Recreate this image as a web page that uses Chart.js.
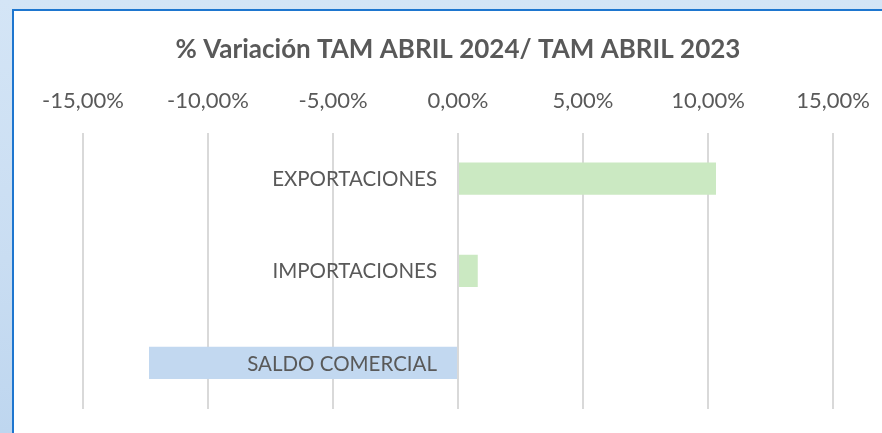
<!DOCTYPE html>
<html>
<head>
<meta charset="utf-8">
<script src="https://cdn.jsdelivr.net/npm/chart.js@4.4.0/dist/chart.umd.min.js"></script>
<style>
  html, body { margin: 0; padding: 0; }
  body {
    width: 882px; height: 433px; overflow: hidden;
    background: linear-gradient(to bottom, #D4E5F6 0%, #C9DDF2 60%, #BED6EF 100%);
  }
  .box {
    position: absolute; left: 12px; top: 9px;
    width: 880px; height: 440px;
    border: 2px solid #1E76CF;
    background: #fff;
  }
  .wrap { position: absolute; left: 0; top: 0; width: 874px; height: 422px; }
</style>
</head>
<body>
<div class="box"><div class="wrap"><canvas id="chart"></canvas></div></div>
<script>
const categorias = ['EXPORTACIONES', 'IMPORTACIONES', 'SALDO COMERCIAL'];
const variacion = [10.32, 0.79, -12.36];
const coloresBarras = ['#CBE9C2', '#CBE9C2', '#C2D8F0'];
const tituloTexto = '% Variación TAM ABRIL 2024/ TAM ABRIL 2023';
const ejeMin = -15;
const ejeMax = 15;
const ejePaso = 5;

const gris = '#595959';

// etiquetas de categoria junto al eje cero (como en Excel)
const etiquetasCategoria = {
    id: 'etiquetasCategoria',
    afterDatasetsDraw(chart) {
        const { ctx, scales } = chart;
        const x0 = scales.x.getPixelForValue(0);
        ctx.save();
        ctx.font = '20.5px Lato';
        ctx.fillStyle = gris;
        ctx.textAlign = 'right';
        ctx.textBaseline = 'middle';
        categorias.forEach((c, i) => {
            ctx.fillText(c, x0 - 21, scales.y.getPixelForValue(i) + 1);
        });
        ctx.restore();
    }
};

new Chart(document.getElementById('chart'), {
    type: 'bar',
    data: {
        labels: categorias,
        datasets: [{
            data: variacion,
            backgroundColor: coloresBarras,
            borderWidth: 0,
            barPercentage: 0.35,
            categoryPercentage: 1
        }]
    },
    plugins: [etiquetasCategoria],
    options: {
        indexAxis: 'y',
        responsive: true,
        maintainAspectRatio: false,
        animation: false,
        layout: { padding: { left: 69, right: 55, top: 0, bottom: 24 } },
        plugins: {
            legend: { display: false },
            tooltip: { enabled: false },
            title: {
                display: true,
                text: tituloTexto,
                color: gris,
                font: { family: 'Lato', size: 26, weight: 'bold' },
                padding: { top: 23, bottom: 5 }
            }
        },
        scales: {
            x: {
                position: 'top',
                min: ejeMin,
                max: ejeMax,
                border: { display: false },
                grid: { color: '#D9D9D9', lineWidth: 2, drawTicks: false },
                ticks: {
                    stepSize: ejePaso,
                    color: gris,
                    padding: 18,
                    font: { family: 'Lato', size: 22 },
                    callback: v => v.toFixed(2).replace('.', ',') + '%'
                }
            },
            y: {
                display: false
            }
        }
    }
});
</script>
</body>
</html>
